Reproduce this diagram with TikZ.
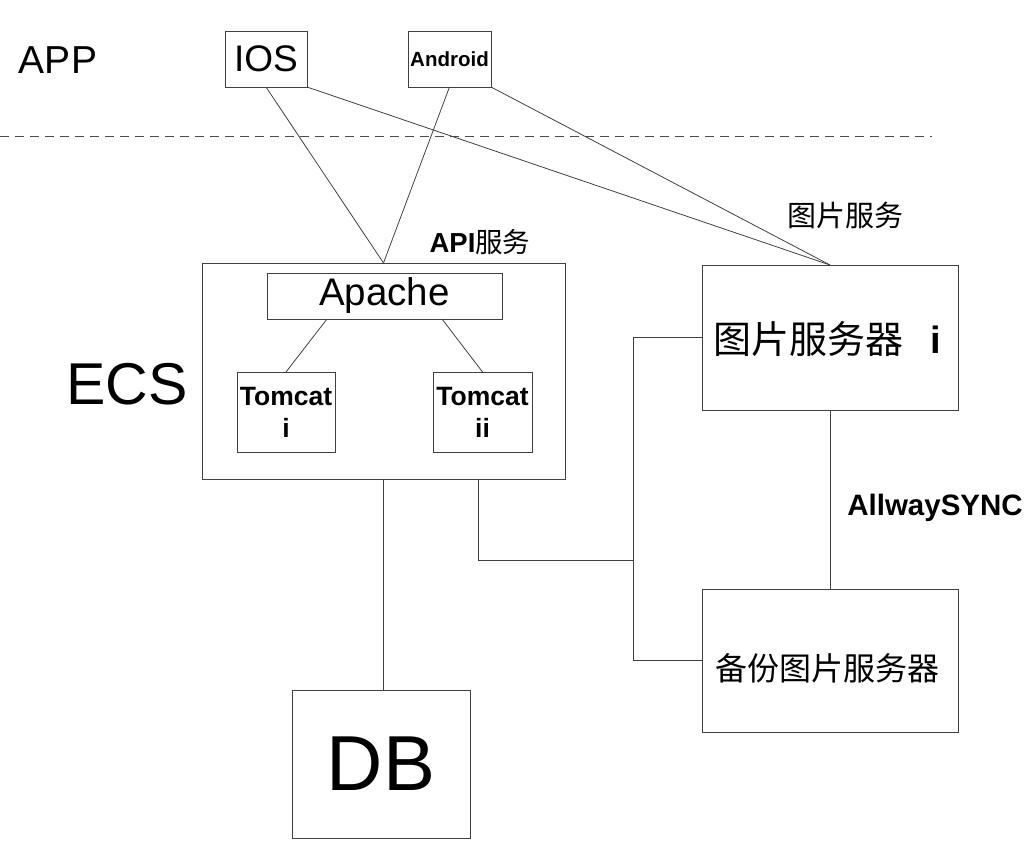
\documentclass[tikz,border=0pt]{standalone}
\usepackage{fontspec}
\setmainfont{Liberation Sans}
\newfontfamily\cjk{Noto Sans CJK SC}
\begin{document}
\begin{tikzpicture}[x=1pt,y=-1pt,
  box/.style={draw=black!75,line width=0.9pt,inner sep=0pt,outer sep=0pt,fill=white},
  wire/.style={draw=black!75,line width=0.8pt},
  sep/.style={draw=black!70,line width=0.8pt,dash pattern=on 9pt off 6pt},
  lbl/.style={inner sep=0pt,outer sep=0pt}]
\useasboundingbox (0,0) rectangle (1024,856);
% boxes
\node[box,minimum width=82pt,minimum height=56pt] (ios) at (266,59) {\fontsize{37}{40}\selectfont IOS};
\node[box,minimum width=83pt,minimum height=56pt] (android) at (449.5,59) {\fontsize{20.5}{24}\selectfont\bfseries Android};
\node[box,minimum width=363pt,minimum height=216pt] (ecs) at (383.5,371) {};
\node[box,minimum width=235pt,minimum height=46pt] (apache) at (384.5,296) {\fontsize{38.5}{40}\selectfont Apache};
\node[box,minimum width=98pt,minimum height=80pt,align=center,font=\fontsize{26.5}{32}\selectfont\bfseries] (tom1) at (286,412) {Tomcat\\i};
\node[box,minimum width=99pt,minimum height=80pt,align=center,font=\fontsize{26.5}{32}\selectfont\bfseries] (tom2) at (482.5,412) {Tomcat\\ii};
\node[box,minimum width=256pt,minimum height=145pt] (pic) at (830,337.5) {};
\node[lbl] (pictext) at (827,339) {{\fontsize{38}{40}\cjk 图片服务器}\hspace{27pt}{\fontsize{38}{40}\selectfont\bfseries i}};
\node[box,minimum width=256pt,minimum height=143pt] (bak) at (830,660.5) {};
\node[lbl] (baktext) at (827,668) {\fontsize{32}{34}\cjk 备份图片服务器};
\node[box,minimum width=178pt,minimum height=148pt] (db) at (381,764) {\fontsize{78}{80}\selectfont DB};
% labels
\node[lbl] (app) at (58,60) {\fontsize{39}{42}\selectfont APP};
\node[lbl] (ecslbl) at (127,384) {\fontsize{59}{62}\selectfont ECS};
\node[lbl] (api) at (480,242) {\fontsize{27.5}{30}\selectfont\textbf{API}{\cjk 服务}};
\node[lbl] (picsvc) at (845,215) {\fontsize{29}{31}\cjk 图片服务};
\node[lbl] (sync) at (935,508) {\fontsize{29.5}{31}\selectfont\bfseries AllwaySYNC};
% separator
\coordinate (sepL) at (0,136);
\coordinate (sepR) at (932,136);
\draw[sep] (sepL) -- (sepR);
% connectors
\draw[wire] (ios.south) -- (ecs.north);
\draw[wire] (android.south) -- (ecs.north);
\draw[wire] (ios.south east) -- (pic.north);
\draw[wire] (android.south east) -- (pic.north);
\draw[wire] ([xshift=60pt]apache.south west) -- (tom1.north);
\draw[wire] ([xshift=-60pt]apache.south east) -- (tom2.north);
\draw[wire] (ecs.south) -- (ecs.south |- db.north);
\coordinate (j) at (633,560);
\draw[wire] ([xshift=-87pt]ecs.south east) |- (j);
\draw[wire] (pic.west) -| (j) |- (bak.west);
\draw[wire] (pic.south) -- (bak.north);
\end{tikzpicture}
\end{document}
